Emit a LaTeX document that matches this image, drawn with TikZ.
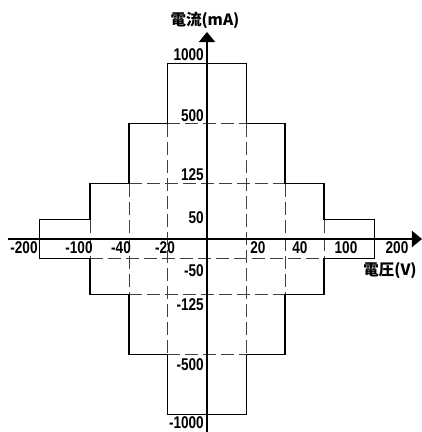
\documentclass[tikz,border=0pt]{standalone}
\usepackage{fontspec}
\setmainfont{Liberation Sans}[FakeStretch=0.8]
\newfontfamily\jpfont{Noto Sans CJK JP}
\usetikzlibrary{arrows.meta}

\tikzset{
    axisline/.style={line width=1.7pt, -{Triangle[width=16pt, length=10pt]}},
    outline/.style={line width=1.5pt, line join=miter},
    gridline/.style={line width=0.9pt, black!75, dash pattern=on 13pt off 5pt},
    numlabel/.style={inner sep=0pt, font=\fontsize{17}{19}\selectfont\bfseries},
    jplabel/.style={inner sep=0pt, font=\fontsize{15.5}{17}\selectfont\jpfont\bfseries}
}

\begin{document}
\begin{tikzpicture}[x=1pt, y=1pt]
    \useasboundingbox (-207,-193) rectangle (215,239);

    % Dashed inner steps
    \foreach \xx/\yy in {39.5/115.5, 78/55.5, 117/19.5} {
        \draw[gridline] (-\xx,\yy) -- (-\xx,-\yy);
        \draw[gridline] (\xx,\yy) -- (\xx,-\yy);
    }
    \foreach \xx/\yy in {39.5/115.5, 78/55.5, 117/-19.5, 78/-55.5, 39.5/-115.5} {
        \draw[gridline] (-\xx,\yy) -- (\xx,\yy);
    }

    % Outer staircase, drawn as two mirrored halves
    \foreach \s in {1,-1} {
        \draw[outline, xscale=\s] (0,175.5) -| (39.5,115.5) -| (78,55.5) -| (117,19.5)
            -| (167.5,-19.5) -| (117,-55.5) -| (78,-115.5) -| (39.5,-175.5) -- (0,-175.5);
    }

    % Axes
    \coordinate (xstart) at (-199,0);
    \coordinate (xend) at (215,0);
    \coordinate (ystart) at (0,-193);
    \coordinate (yend) at (0,207);
    \draw[axisline] (xstart) -- (xend);
    \draw[axisline] (ystart) -- (yend);

    % Current values
    \foreach \v/\yy [count=\i] in {1000/184, 500/123, 125/64, 50/21, -50/-32, -125/-66, -500/-126, -1000/-184} {
        \node[numlabel, anchor=east] (ilab\i) at (-3,\yy) {\v};
    }

    % Voltage values
    \foreach \v/\xx [count=\i] in {-200/-183, -100/-128, -40/-86, -20/-42, 20/51, 40/93, 100/139, 200/190} {
        \node[numlabel] (vlab\i) at (\xx,-9) {\v};
    }

    % Axis titles
    \node[jplabel] (ititle) at (-2,219) {電流(mA)};
    \node[jplabel] (vtitle) at (183,-32) {電圧(V)};
\end{tikzpicture}
\end{document}
